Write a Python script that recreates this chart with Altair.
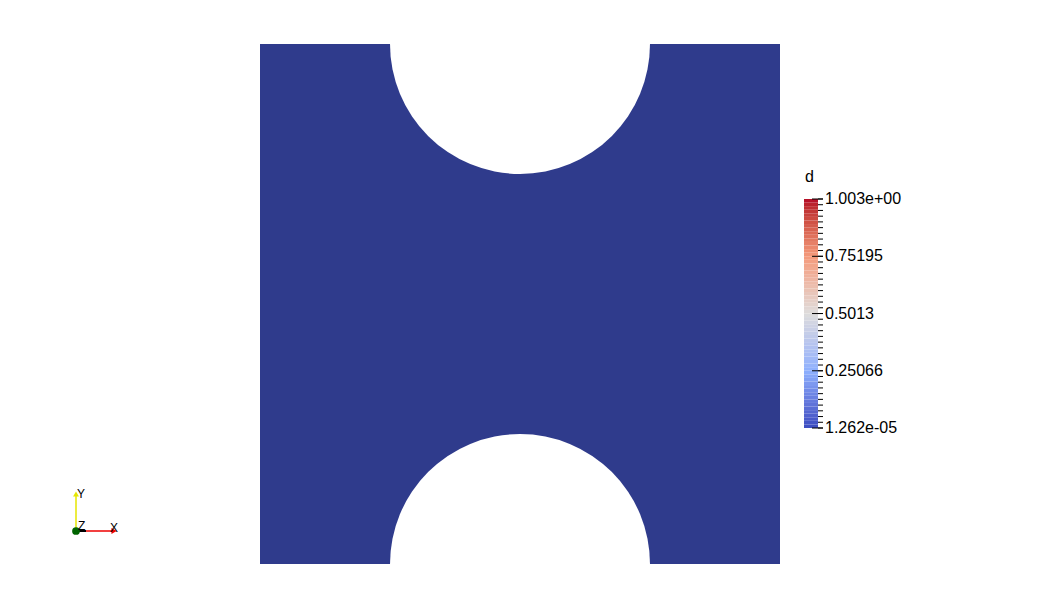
import altair as alt
import pandas as pd
import numpy as np

# ---- geometry (data units) ----
plate_x = [0.0, 1.0]
plate_y = [0.0, 1.0]
hole_cx = [0.5, 0.5]
hole_cy = [1.0, 0.0]
hole_r = [0.25, 0.25]

# ---- colour bar ----
d_min = 1.262e-05
d_max = 1.003
label_values = [1.262e-05, 0.25066, 0.5013, 0.75195, 1.003]
label_texts = ["1.262e-05", "0.25066", "0.5013", "0.75195", "1.003e+00"]
cmap_stops = [0.0, 0.25, 0.5, 0.75, 1.0]
cmap_colors = ["#3b4cc0", "#8db0fe", "#dddcdc", "#f49a7b", "#b40426"]

W, H = 1040, 608
xs = alt.Scale(domain=[-0.5, 1.5], range=[0, W])
ys = alt.Scale(domain=[-44 / 520, 1 + 44 / 520], range=[H, 0])

plate_df = pd.DataFrame({"x": [plate_x[0]], "x2": [plate_x[1]], "y": [plate_y[0]], "y2": [plate_y[1]]})
holes_df = pd.DataFrame({"cx": hole_cx, "cy": hole_cy, "r": hole_r})

plate = alt.Chart(plate_df).mark_rect(color="#2f3b8c").encode(
    x=alt.X("x:Q", scale=xs, axis=None),
    x2="x2:Q",
    y=alt.Y("y:Q", scale=ys, axis=None),
    y2="y2:Q",
)
holes = alt.Chart(holes_df).mark_arc(color="white", theta=0, theta2=2 * np.pi).encode(
    x=alt.X("cx:Q", scale=xs, axis=None),
    y=alt.Y("cy:Q", scale=ys, axis=None),
    radius=alt.Radius("r:Q", stack=None,
                      scale=alt.Scale(type="linear", domain=[0, 1], range=[0, 520], zero=True)),
)

# colour bar bands
nb = 64
edges = np.linspace(d_min, d_max, nb + 1)
bands_df = pd.DataFrame({"d0": edges[:-1], "d1": edges[1:], "mid": (edges[:-1] + edges[1:]) / 2})
ds = alt.Scale(domain=[d_min, d_max], range=[428, 199])
cscale = alt.Scale(domain=[d_min + (d_max - d_min) * s for s in cmap_stops], range=cmap_colors, interpolate="lab")

bands = alt.Chart(bands_df).mark_rect().encode(
    x=alt.value(804), x2=alt.value(818),
    y=alt.Y("d0:Q", scale=ds, axis=None), y2="d1:Q",
    color=alt.Color("mid:Q", scale=cscale, legend=None),
)
ticks_df = pd.DataFrame({"t": np.linspace(d_min, d_max, 41)})
minor = alt.Chart(ticks_df).mark_rule(color="black", strokeWidth=1).encode(
    x=alt.value(818), x2=alt.value(823),
    y=alt.Y("t:Q", scale=ds, axis=None),
)
labels_df = pd.DataFrame({"v": label_values, "txt": label_texts})
major = alt.Chart(labels_df).mark_rule(color="black", strokeWidth=1).encode(
    x=alt.value(812), x2=alt.value(823),
    y=alt.Y("v:Q", scale=ds, axis=None),
)
labels = alt.Chart(labels_df).mark_text(align="left", baseline="middle", fontSize=16, font="Liberation Sans", color="black").encode(
    x=alt.value(825),
    y=alt.Y("v:Q", scale=ds, axis=None),
    text="txt:N",
)
one = pd.DataFrame({"a": [0]})
title = alt.Chart(one).mark_text(align="left", baseline="middle", fontSize=16, font="Liberation Sans", color="black", text="d").encode(
    x=alt.value(805), y=alt.value(177)
)

# orientation triad
ox, oy = 76, 531
y_axis = alt.Chart(one).mark_rule(color="#e6e600", strokeWidth=1.5).encode(
    x=alt.value(ox), y=alt.value(oy), y2=alt.value(494))
y_head = alt.Chart(one).mark_point(shape="triangle-up", filled=True, size=35, color="#e6e600", opacity=1).encode(
    x=alt.value(ox), y=alt.value(494))
x_axis = alt.Chart(one).mark_rule(color="#ee0000", strokeWidth=1.5).encode(
    x=alt.value(ox), x2=alt.value(113), y=alt.value(oy))
z_axis = alt.Chart(one).mark_rule(color="black", strokeWidth=2).encode(
    x=alt.value(ox), x2=alt.value(86), y=alt.value(oy))
x_head = alt.Chart(one).mark_point(shape="triangle-right", filled=True, size=35, color="#ee0000", opacity=1).encode(
    x=alt.value(114), y=alt.value(oy))
origin = alt.Chart(one).mark_point(shape="circle", filled=True, size=60, color="#006400", opacity=1).encode(
    x=alt.value(ox), y=alt.value(oy))
tri_txt = pd.DataFrame({"t": ["Y", "Z", "X"], "px": [77, 78, 110], "py": [494, 526, 528]})
tri_labels = alt.Chart(tri_txt).mark_text(align="left", baseline="middle", fontSize=12, font="Liberation Sans", color="black").encode(
    x=alt.X("px:Q", scale=alt.Scale(domain=[0, W], range=[0, W]), axis=None),
    y=alt.Y("py:Q", scale=alt.Scale(domain=[0, H], range=[0, H]), axis=None),
    text="t:N",
)

chart = alt.layer(
    plate, holes, bands, minor, major, labels, title,
    y_axis, y_head, x_axis, z_axis, x_head, origin, tri_labels,
).resolve_scale(x="independent", y="independent", color="independent", radius="independent").properties(
    width=W, height=H, padding=0, autosize=alt.AutoSizeParams(type="none"), background="white"
).configure_view(stroke=None)

chart.save("out.html", embed_options={"renderer": "svg", "actions": False})
